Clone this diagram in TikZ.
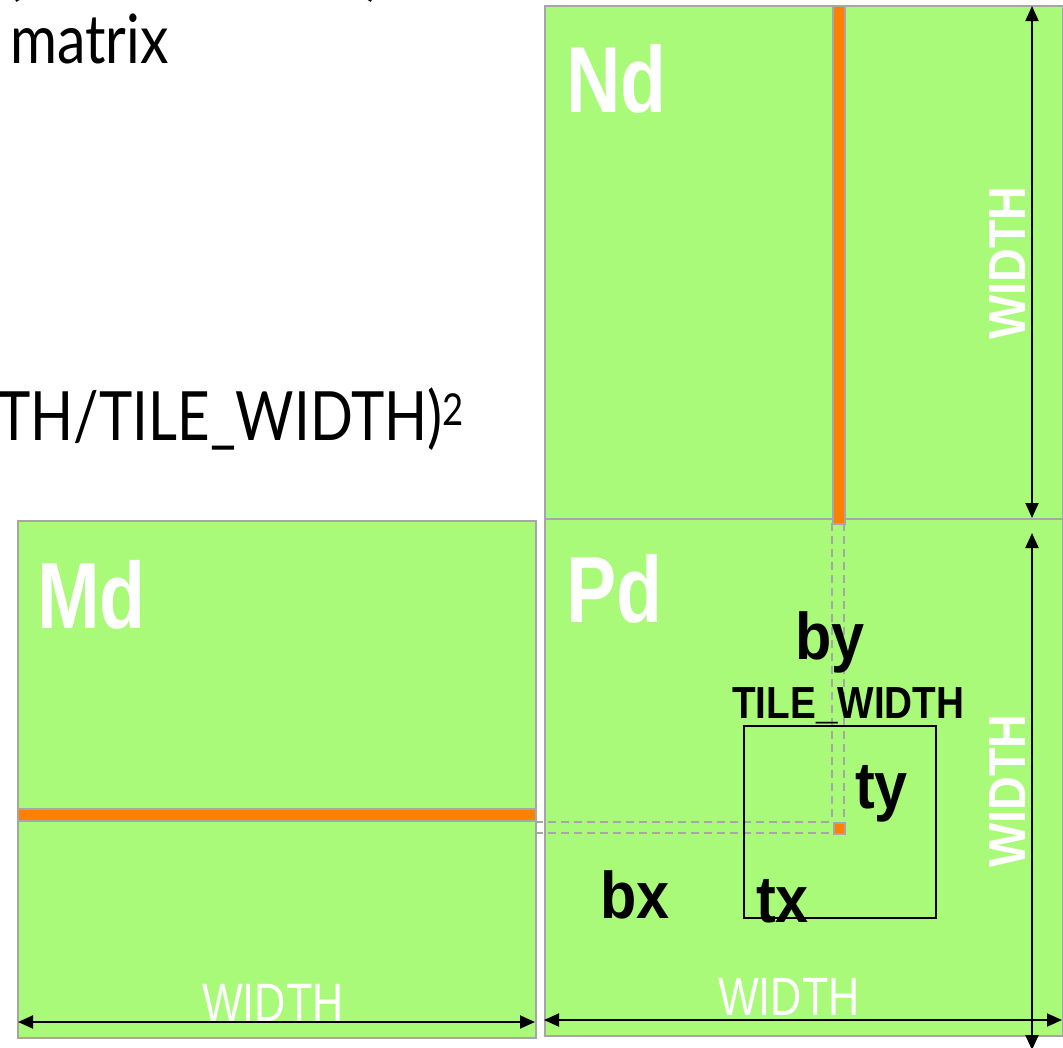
\documentclass[tikz,border=0pt]{standalone}
\usepackage{fontspec}
\usepackage{graphicx}
\setmainfont{Liberation Sans}
\newfontfamily\gillfont{Lato}
\usetikzlibrary{arrows.meta}
\definecolor{mgreen}{HTML}{AAFA7A}
\definecolor{morange}{HTML}{FF8000}
\definecolor{mgrey}{HTML}{A6A6A6}
\newcommand{\narrowtxt}[2]{\scalebox{#1}[1]{#2}}
\begin{document}
\begin{tikzpicture}[x=1pt,y=-1pt,
  matbox/.style={fill=mgreen,draw=mgrey,line width=2pt,inner sep=0,anchor=north west},
  barbox/.style={fill=morange,draw=mgrey,line width=1.5pt,inner sep=0,anchor=north west},
  guide/.style={draw=mgrey,dash pattern=on 8pt off 5pt,line width=2pt},
  dimline/.style={draw=black,line width=2pt,{Triangle[length=15pt,width=13pt]}-{Triangle[length=15pt,width=13pt]}},
  biglbl/.style={text=white,font=\bfseries\fontsize{94}{94}\selectfont,inner sep=0,anchor=base west},
  blklbl/.style={text=black,font=\bfseries\fontsize{66}{66}\selectfont,inner sep=0,anchor=base west},
  widlbl/.style={text=white,font=\fontsize{54}{54}\selectfont,inner sep=0,anchor=base west},
  vwidlbl/.style={text=white,font=\bfseries\fontsize{52}{52}\selectfont,inner sep=0,anchor=base,rotate=90},
  toplbl/.style={text=black,font=\gillfont\fontsize{68}{68}\selectfont,inner sep=0}
]
\useasboundingbox (0,0) rectangle (1063,1047);
\clip (0,0) rectangle (1063,1047);

% top-left text (cut by the edge)
\node[toplbl,anchor=base west] (lp) at (4,-8) {(};
\node[toplbl,anchor=base east] (rp) at (384,-8) {)};
\node[toplbl,anchor=base west] (mtx) at (10,63) {\narrowtxt{0.84}{matrix}};
\node[toplbl,anchor=base east] (nblk) at (464,440) {\narrowtxt{0.83}{TH/TILE\_WIDTH)}\raisebox{15pt}{\fontsize{44}{44}\selectfont\narrowtxt{0.83}{2}}};

% matrices
\node[matbox,minimum width=518pt,minimum height=513pt] (Nd) at (544,5) {};
\node[matbox,minimum width=518pt,minimum height=517pt] (Pd) at (544,518) {};
\node[matbox,minimum width=518pt,minimum height=517pt] (Md) at (17,520) {};

% orange row / column
\node[barbox,minimum width=12pt,minimum height=518pt] (col) at (832,5) {};
\node[barbox,minimum width=518pt,minimum height=12pt] (row) at (17,808) {};

% dashed guides
\coordinate (g1a) at (832,523); \coordinate (g1b) at (832,822);
\coordinate (g2a) at (844,523); \coordinate (g2b) at (844,822);
\coordinate (g3a) at (535,822); \coordinate (g3b) at (833,822);
\coordinate (g4a) at (535,833); \coordinate (g4b) at (833,833);
\draw[guide] (g1a) -- (g1b);
\draw[guide] (g2a) -- (g2b);
\draw[guide] (g3a) -- (g3b);
\draw[guide] (g4a) -- (g4b);
\node[barbox,minimum width=11pt,minimum height=11pt] (elem) at (833,822) {};

% tile
\node[draw=black,line width=2pt,inner sep=0,minimum width=192pt,minimum height=192pt,anchor=north west] (tile) at (743,725) {};

% labels
\node[biglbl] (lNd) at (566,112) {\narrowtxt{0.8}{Nd}};
\node[biglbl] (lPd) at (566,622) {\narrowtxt{0.8}{Pd}};
\node[biglbl] (lMd) at (37,628) {\narrowtxt{0.8}{Md}};
\node[blklbl] (lby) at (795,659) {\narrowtxt{0.9}{by}};
\node[blklbl,font=\bfseries\fontsize{45}{45}\selectfont] (ltw) at (732,718) {\narrowtxt{0.86}{TILE\_WIDTH}};
\node[blklbl] (lty) at (855,808) {\narrowtxt{0.9}{ty}};
\node[blklbl] (lbx) at (600,918) {\narrowtxt{0.9}{bx}};
\node[blklbl] (ltx) at (756,922) {\narrowtxt{0.9}{tx}};

\node[widlbl] (wM) at (202,1021) {\narrowtxt{0.8}{WIDTH}};
\node[widlbl] (wP) at (718,1015) {\narrowtxt{0.8}{WIDTH}};
\node[vwidlbl] (wN) at (1025,263) {\narrowtxt{0.9}{WIDTH}};
\node[vwidlbl] (wPv) at (1025,791) {\narrowtxt{0.9}{WIDTH}};

% dimension arrows
\coordinate (a1) at (1032,6);   \coordinate (a2) at (1032,518);
\coordinate (a3) at (1032,533); \coordinate (a4) at (1032,1050);
\coordinate (a5) at (18,1022);  \coordinate (a6) at (535,1022);
\coordinate (a7) at (544,1020); \coordinate (a8) at (1062,1020);
\draw[dimline] (a1) -- (a2);
\draw[dimline] (a3) -- (a4);
\draw[dimline] (a5) -- (a6);
\draw[dimline] (a7) -- (a8);
\end{tikzpicture}
\end{document}
